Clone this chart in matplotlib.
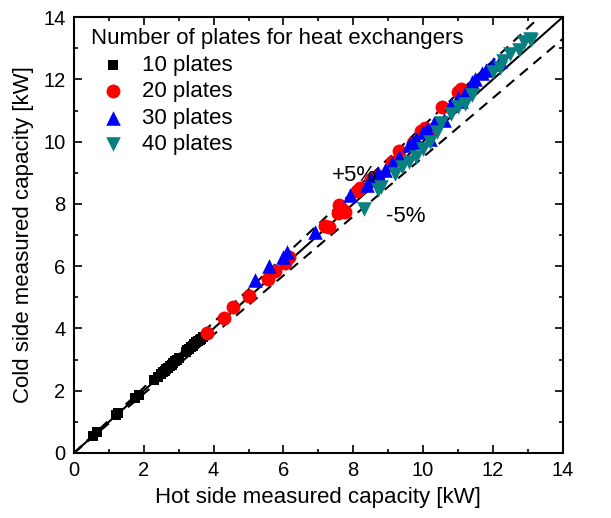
import matplotlib
matplotlib.use('Agg')
import matplotlib.pyplot as plt
import numpy as np
from matplotlib.ticker import MultipleLocator

plt.rcParams.update({
    'font.family': ['Liberation Sans', 'DejaVu Sans'],
    'font.size': 15,
    'xtick.direction': 'in',
    'ytick.direction': 'in',
    'xtick.top': True,
    'ytick.right': True,
})

# 10 plates
x10 = [0.55, 0.65, 1.2, 1.25, 1.75, 1.85, 2.3, 2.4, 2.5, 2.55, 2.6, 2.65, 2.7, 2.75,
       2.8, 2.85, 2.9, 2.95, 3.0, 3.2, 3.25, 3.3, 3.35, 3.4, 3.45, 3.5, 3.55, 3.6, 3.65, 3.7]
y10 = [0.56, 0.66, 1.21, 1.27, 1.78, 1.87, 2.33, 2.43, 2.54, 2.6, 2.64, 2.7, 2.74, 2.8,
       2.84, 2.9, 2.94, 3.0, 3.04, 3.25, 3.31, 3.35, 3.42, 3.45, 3.5, 3.55, 3.6, 3.63, 3.67, 3.71]

# 20 plates
x20 = [3.8, 4.3, 4.55, 5.0, 5.55, 5.75, 6.05, 6.15, 7.2, 7.3, 7.55, 7.6, 7.7, 7.75,
       8.1, 8.2, 8.5, 8.7, 9.1, 9.3, 9.7, 9.95, 10.05, 10.2, 10.55, 11.0, 11.1, 11.2]
y20 = [3.85, 4.35, 4.7, 5.05, 5.6, 5.85, 6.1, 6.3, 7.3, 7.25, 7.7, 7.95, 7.8, 7.75,
       8.4, 8.5, 8.8, 8.9, 9.35, 9.7, 9.95, 10.35, 10.45, 10.3, 11.1, 11.6, 11.7, 11.5]

# 30 plates
x30 = [5.2, 5.6, 6.0, 6.1, 6.9, 7.9, 8.4, 8.5, 8.7, 8.9, 9.1, 9.3, 9.6, 9.7, 9.8,
       10.0, 10.1, 10.2, 10.3, 10.6, 10.8, 11.0, 11.1, 11.2, 11.4, 11.5, 11.7, 11.8, 12.0, 12.2]
y30 = [5.55, 6.0, 6.3, 6.45, 7.1, 8.3, 8.6, 8.8, 9.0, 9.1, 9.3, 9.5, 9.9, 10.0, 10.1,
       10.3, 10.4, 10.1, 10.6, 10.7, 11.2, 11.4, 11.3, 11.55, 11.9, 12.0, 12.2, 12.3, 12.5, 12.6]

# 40 plates
x40 = [8.3, 8.7, 8.8, 9.2, 9.4, 9.6, 9.8, 10.0, 10.2, 10.4, 10.5, 10.8, 11.0, 11.2,
       11.4, 12.0, 12.2, 12.3, 12.5, 12.75, 12.9, 13.05, 13.1]
y40 = [7.85, 8.45, 8.55, 8.95, 9.2, 9.35, 9.5, 9.75, 10.0, 10.3, 10.6, 10.9, 11.1, 11.2,
       11.5, 12.25, 12.35, 12.6, 12.8, 12.95, 13.2, 13.3, 13.25]

fig = plt.figure(figsize=(6.11, 5.18), dpi=100)
ax = fig.add_axes([0.121, 0.1255, 0.8, 0.8415])

ln = np.array([0, 14])
ax.plot(ln, ln, color='black', lw=1.5, zorder=1)
ax.plot(ln, ln * 1.05, color='black', lw=1.5, ls=(0, (5, 3.5)), zorder=1)
ax.plot(ln, ln * 0.95, color='black', lw=1.5, ls=(0, (5, 3.5)), zorder=1)

ax.scatter(x10, y10, marker='s', s=42, color='black', lw=0, label='10 plates', zorder=3)
ax.scatter(x20, y20, marker='o', s=100, color='red', lw=0, label='20 plates', zorder=3)
ax.scatter(x30, y30, marker='^', s=110, color='blue', lw=0, label='30 plates', zorder=3)
ax.scatter(x40, y40, marker='v', s=110, color='#0a7f7f', lw=0, label='40 plates', zorder=3)

ax.text(7.4, 8.9, '+5%', fontsize=16, va='center')
ax.text(8.95, 7.6, '-5%', fontsize=16, va='center')

ax.set_xlim(0, 14)
ax.set_ylim(0, 14)
ax.xaxis.set_major_locator(MultipleLocator(2))
ax.xaxis.set_minor_locator(MultipleLocator(1))
ax.yaxis.set_major_locator(MultipleLocator(2))
ax.yaxis.set_minor_locator(MultipleLocator(1))
ax.tick_params(which='major', length=6, width=1.2, labelsize=14.5, pad=6)
ax.tick_params(which='minor', length=3, width=1.2)
for s in ax.spines.values():
    s.set_linewidth(1.5)

ax.set_xlabel('Hot side measured capacity [kW]', fontsize=16, labelpad=5)
ax.set_ylabel('Cold side measured capacity [kW]', fontsize=16, labelpad=7)

leg = ax.legend(title='Number of plates for heat exchangers', loc='upper left',
                bbox_to_anchor=(0.0, 1.013),
                frameon=False, fontsize=16, title_fontsize=16,
                handletextpad=0.3, borderaxespad=0.45, labelspacing=0.25,
                borderpad=0.3)
leg._legend_box.align = 'left'

fig.savefig('out.png', dpi=100)
